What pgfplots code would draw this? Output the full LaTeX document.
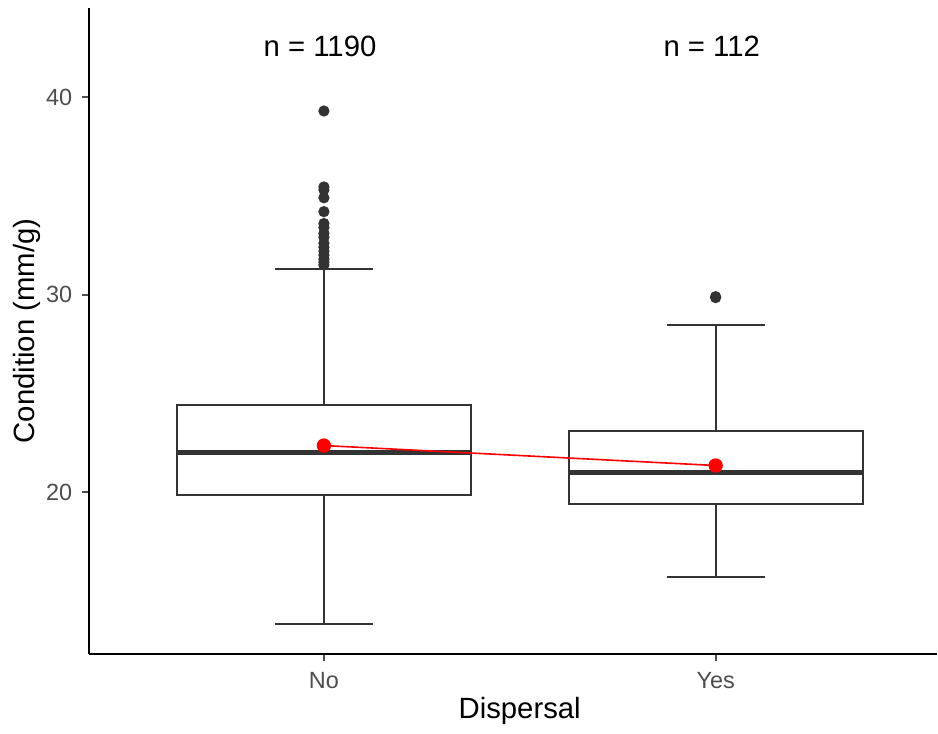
\documentclass[border=0pt]{standalone}
\usepackage{pgfplots}
\pgfplotsset{compat=1.18}
\usepgfplotslibrary{statistics}
\usepackage{fontspec}
\setmainfont{Liberation Sans}
\definecolor{boxc}{HTML}{333333}
\definecolor{tickc}{HTML}{4D4D4D}
\begin{document}
\begin{tikzpicture}
\begin{axis}[
  name=ax,
  scale only axis,
  width=318.4pt, height=242.6pt,
  xmin=0.4, xmax=2.565, ymin=11.82, ymax=44.5,
  axis x line*=bottom, axis y line*=left,
  axis line style={-, line width=0.8pt, black},
  xtick={1,2}, xticklabels={No,Yes},
  ytick={20,30,40},
  tick align=outside,
  major tick length=2.75pt,
  every tick/.style={line width=0.8pt, color=tickc},
  /pgf/number format/assume math mode=true,
  ticklabel style={font=\fontsize{8.8}{10}\selectfont, color=tickc},
  xticklabel style={yshift=-0.5pt},
  xlabel={Dispersal},
  ylabel={Condition (mm/g)},
  label style={font=\fontsize{11}{13}\selectfont, color=black},
  xlabel style={at={(axis description cs:0.508,0)}, anchor=center, yshift=-21.4pt},
  ylabel style={at={(axis description cs:0,0.5)}, anchor=center, yshift=23.3pt},
  boxplot/draw direction=y,
  clip=false,
]
\addplot[boxplot prepared={draw position=1, lower whisker=13.33, lower quartile=19.85, median=22.02, upper quartile=24.44, upper whisker=31.31, box extend=0.75, whisker extend=0.25, every median/.style={line width=1.6pt}}, draw=boxc, fill=white, line width=0.75pt, solid] coordinates {};
\addplot[boxplot prepared={draw position=2, lower whisker=15.7, lower quartile=19.39, median=21.0, upper quartile=23.13, upper whisker=28.48, box extend=0.75, whisker extend=0.25, every median/.style={line width=1.6pt}}, draw=boxc, fill=white, line width=0.75pt, solid] coordinates {};
\addplot[only marks, mark=*, mark size=1.9pt, color=boxc] coordinates {
(1,39.29) (1,35.45) (1,35.3) (1,34.9) (1,34.2) (1,33.6) (1,33.4) (1,33.1) (1,32.9) (1,32.6) (1,32.4) (1,32.2) (1,32.0) (1,31.8) (1,31.65) (1,31.5)
(2,29.9) (2,29.85)};
\addplot[red, line width=0.6pt, mark=*, mark size=2.4pt, mark options={fill=red, draw=red}] coordinates {(1,22.37) (2,21.36)};
\node[font=\fontsize{11}{13}\selectfont] at (axis cs:0.99,42.58) {n = 1190};
\node[font=\fontsize{11}{13}\selectfont] at (axis cs:1.99,42.58) {n = 112};
\end{axis}
\path (ax.south west) ++(-33.375pt,-28.125pt) rectangle ([yshift=3pt]ax.north east);
\end{tikzpicture}
\end{document}
